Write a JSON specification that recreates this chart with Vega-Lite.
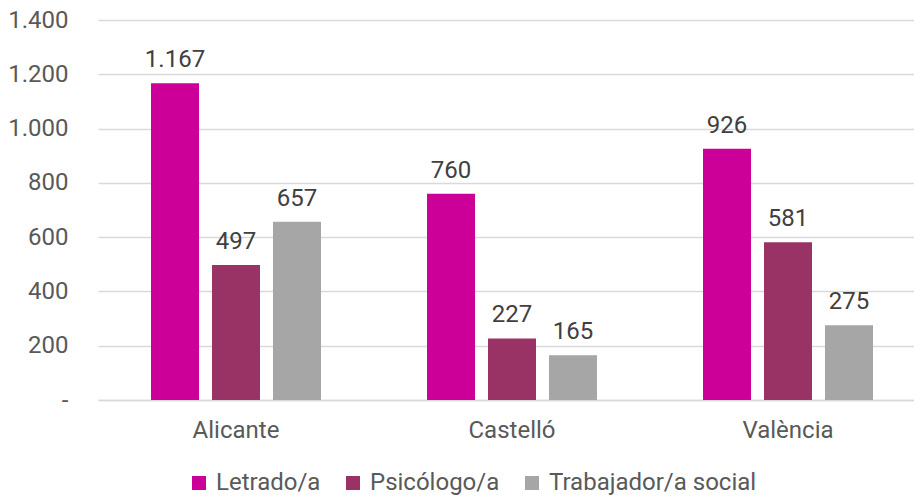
{
  "$schema": "https://vega.github.io/schema/vega-lite/v6.json",
  "width": 816,
  "height": 380,
  "autosize": {"type": "none"},
  "padding": {"left": 98, "top": 20, "right": 0, "bottom": 98},
  "background": "white",
  "config": {
    "locale": {"number": {"decimal": ",", "thousands": ".", "grouping": [3], "currency": ["", " €"]}},
    "font": "Roboto",
    "view": {"stroke": null}
  },
  "data": {
    "values": [
      {"provincia": "Alicante", "perfil": "Letrado/a", "valor": 1167},
      {"provincia": "Alicante", "perfil": "Psicólogo/a", "valor": 497},
      {"provincia": "Alicante", "perfil": "Trabajador/a social", "valor": 657},
      {"provincia": "Castelló", "perfil": "Letrado/a", "valor": 760},
      {"provincia": "Castelló", "perfil": "Psicólogo/a", "valor": 227},
      {"provincia": "Castelló", "perfil": "Trabajador/a social", "valor": 165},
      {"provincia": "València", "perfil": "Letrado/a", "valor": 926},
      {"provincia": "València", "perfil": "Psicólogo/a", "valor": 581},
      {"provincia": "València", "perfil": "Trabajador/a social", "valor": 275}
    ]
  },
  "encoding": {
    "x": {
      "field": "provincia", "type": "nominal", "sort": null,
      "scale": {"range": [0, 828], "paddingInner": 0, "paddingOuter": 0},
      "axis": {"title": null, "labelAngle": 0, "labelFontSize": 24, "labelColor": "#595959",
               "labelPadding": 18, "ticks": false, "domain": true, "domainColor": "#d9d9d9", "domainWidth": 1.5, "labelFont": "Roboto"}
    },
    "xOffset": {
      "field": "perfil", "type": "nominal", "sort": null,
      "scale": {"paddingInner": 0.213, "paddingOuter": 0.869}
    },
    "y": {
      "field": "valor", "type": "quantitative",
      "scale": {"domain": [0, 1400], "nice": false},
      "axis": {"title": null, "values": [0, 200, 400, 600, 800, 1000, 1200, 1400], "format": ",d",
               "labelExpr": "datum.value === 0 ? '-' : datum.label",
               "labelFontSize": 24, "labelColor": "#595959", "labelPadding": 30, "ticks": false, "domain": false,
               "gridColor": "#d9d9d9", "gridWidth": 1.5, "labelFont": "Roboto"}
    }
  },
  "layer": [
    {
      "mark": {"type": "bar"},
      "encoding": {
        "color": {
          "field": "perfil", "type": "nominal", "sort": null,
          "scale": {"domain": ["Letrado/a", "Psicólogo/a", "Trabajador/a social"], "range": ["#cc0099", "#993366", "#a6a6a6"]},
          "legend": {"title": null, "orient": "none", "direction": "horizontal", "legendX": 89, "legendY": 451,
                     "symbolType": "square", "symbolSize": 196, "symbolStrokeWidth": 0, "labelFontSize": 24,
                     "labelColor": "#595959", "labelOffset": 5, "columnPadding": 20, "labelLimit": 0, "labelFont": "Roboto"}
        }
      }
    },
    {
      "mark": {"type": "text", "baseline": "alphabetic", "dy": -16, "fontSize": 24, "color": "#404040", "font": "Roboto"},
      "encoding": {
        "text": {"field": "valor", "type": "quantitative", "format": ",d"}
      }
    }
  ]
}
